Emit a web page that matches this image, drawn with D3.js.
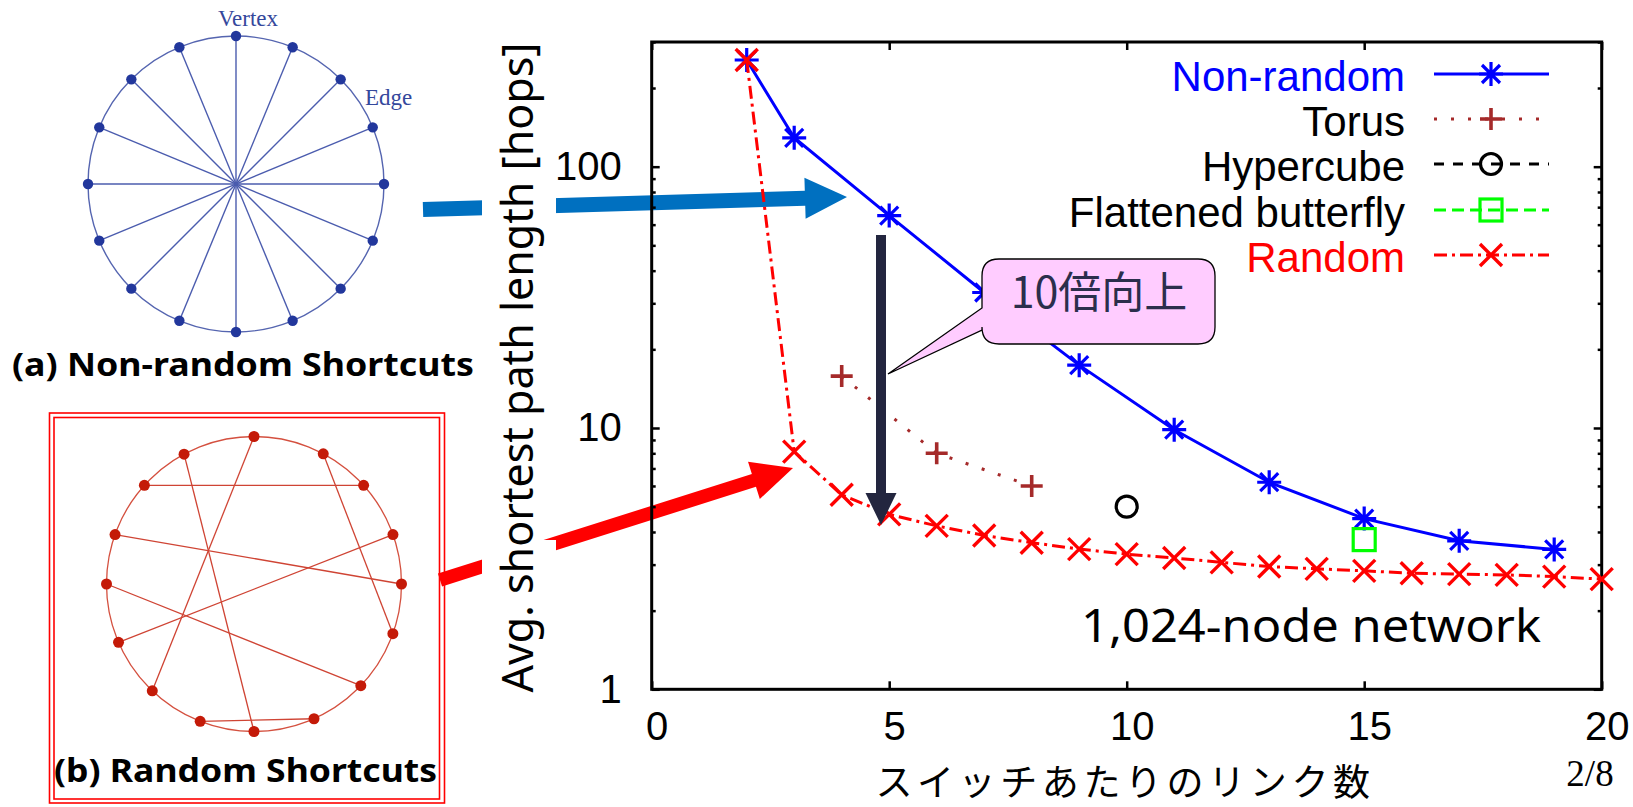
<!DOCTYPE html>
<html><head><meta charset="utf-8">
<script src="https://cdn.jsdelivr.net/npm/d3@7"></script>
<style>html,body{margin:0;padding:0;background:#fff}svg{display:block}</style>
</head><body>
<svg id="c" width="1633" height="807"></svg>
<script>
// ---------------- data ----------------
const nonRandomX = [2, 3, 5, 7, 9, 11, 13, 15, 17, 19];
const nonRandomY = [256, 129, 65, 33, 17.4, 9.85, 6.2, 4.5, 3.7, 3.43];
const torusX = [4, 6, 8];
const torusY = [15.8, 8.0, 6.0];
const hypercubeX = [10];
const hypercubeY = [5.0];
const butterflyX = [15];
const butterflyY = [3.74];
const randomX = [2, 3, 4, 5, 6, 7, 8, 9, 10, 11, 12, 13, 14, 15, 16, 17, 18, 19, 20];
const randomY = [256, 8.12, 5.55, 4.67, 4.22, 3.88, 3.64, 3.44, 3.29, 3.18, 3.06, 2.95, 2.89, 2.84, 2.78, 2.76, 2.74, 2.70, 2.64];
const xTicks = [0, 5, 10, 15, 20];
const yTicks = [1, 10, 100];
const yMinorTicks = [2,3,4,5,6,7,8,9,20,30,40,50,60,70,80,90,200,300];
const legendLabels = ["Non-random", "Torus", "Hypercube", "Flattened butterfly", "Random"];
const xLabel = "スイッチあたりのリンク数";
const yLabel = "Avg. shortest path length [hops]";
const calloutText = "10倍向上";
const noteText = "1,024-node network";
const pageText = "2/8";
const captionA = "(a) Non-random Shortcuts";
const captionB = "(b) Random Shortcuts";
const randomShortcutPairs = [[14,2],[0,10],[15,8],[1,5],[13,4],[3,11],[12,6],[9,7]];
const randomNodeAngles = [0, 28, 48, 70.4, 90, 109.7, 133.6, 156, 180, 201.4, 223.6, 246.7, 270, 289.6, 312, 331.7];

// ---------------- setup ----------------
const svg = d3.select("#c");
const x = d3.scaleLinear().domain([0, 20]).range([651.7, 1601.7]);
const y = d3.scaleLog().domain([1, 300]).range([689.3, 42.0]);

const SANS = "'Liberation Sans', Arial, sans-serif";
const HUM = "'Noto Sans', 'Open Sans', sans-serif";
const CJK = "'Noto Sans CJK JP', sans-serif";
const SERIF = "'Liberation Serif', 'DejaVu Serif', serif";

// ---------------- arrows (behind) ----------------
function arrow(g, x0, y0, x1, y1, w, hl, hw, color) {
  const dx = x1 - x0, dy = y1 - y0, L = Math.hypot(dx, dy);
  const ux = dx / L, uy = dy / L, nx = -uy, ny = ux;
  const bx = x1 - ux * hl, by = y1 - uy * hl;
  const p = [
    [x0 + nx * w / 2, y0 + ny * w / 2], [bx + nx * w / 2, by + ny * w / 2],
    [bx + nx * hw, by + ny * hw], [x1, y1], [bx - nx * hw, by - ny * hw],
    [bx - nx * w / 2, by - ny * w / 2], [x0 - nx * w / 2, y0 - ny * w / 2]
  ];
  g.append("path").attr("d", "M" + p.map(q => q.join(",")).join("L") + "Z").attr("fill", color);
}
const ag = svg.append("g");
arrow(ag, 423, 209.5, 847, 197, 15, 42, 20.5, "#0070C0");
arrow(ag, 440, 580, 793, 468, 13.5, 41, 19.5, "#FF0000");
ag.append("rect").attr("x", 482).attr("y", 180).attr("width", 74).attr("height", 50).attr("fill", "#fff");
ag.append("rect").attr("x", 482).attr("y", 540).attr("width", 74).attr("height", 60).attr("fill", "#fff");

// ---------------- panel (a) ----------------
const pa = svg.append("g");
const ca = {x: 236, y: 184, r: 148};
pa.append("circle").attr("cx", ca.x).attr("cy", ca.y).attr("r", ca.r)
  .attr("fill", "none").attr("stroke", "#5565b0").attr("stroke-width", 1.4);
const aNodes = d3.range(16).map(i => {
  const a = i * 22.5 * Math.PI / 180;
  return [ca.x + ca.r * Math.sin(a), ca.y - ca.r * Math.cos(a)];
});
for (let i = 0; i < 8; i++) {
  pa.append("line").attr("x1", aNodes[i][0]).attr("y1", aNodes[i][1])
    .attr("x2", aNodes[i + 8][0]).attr("y2", aNodes[i + 8][1])
    .attr("stroke", "#4b5cae").attr("stroke-width", 1.4);
}
pa.selectAll("circle.n").data(aNodes).enter().append("circle")
  .attr("cx", d => d[0]).attr("cy", d => d[1]).attr("r", 5.2).attr("fill", "#22379c");
pa.append("text").attr("x", 248).attr("y", 26).attr("text-anchor", "middle")
  .style("font-family", SERIF).style("font-size", "23px").attr("fill", "#34489c").text("Vertex");
pa.append("text").attr("x", 365).attr("y", 105)
  .style("font-family", SERIF).style("font-size", "23px").attr("fill", "#34489c").text("Edge");
pa.append("text").attr("x", 12).attr("y", 376).attr("textLength", 462).attr("lengthAdjust", "spacingAndGlyphs")
  .style("font-family", HUM).style("font-weight", "bold").style("font-size", "33px").attr("fill", "#000").text(captionA);

// ---------------- panel (b) ----------------
const pb = svg.append("g");
pb.append("rect").attr("x", 49.5).attr("y", 413).attr("width", 395).attr("height", 390)
  .attr("fill", "none").attr("stroke", "#ff0000").attr("stroke-width", 1.6);
pb.append("rect").attr("x", 54).attr("y", 417.5).attr("width", 385.5).attr("height", 381.5)
  .attr("fill", "none").attr("stroke", "#ff0000").attr("stroke-width", 1.6);
const cb = {x: 254, y: 584, r: 147.5};
pb.append("circle").attr("cx", cb.x).attr("cy", cb.y).attr("r", cb.r)
  .attr("fill", "none").attr("stroke", "#d4503f").attr("stroke-width", 1.3);
const bNodes = randomNodeAngles.map(deg => {
  const a = deg * Math.PI / 180;
  return [cb.x + cb.r * Math.sin(a), cb.y - cb.r * Math.cos(a)];
});
randomShortcutPairs.forEach(([i, j]) => {
  pb.append("line").attr("x1", bNodes[i][0]).attr("y1", bNodes[i][1])
    .attr("x2", bNodes[j][0]).attr("y2", bNodes[j][1])
    .attr("stroke", "#cf4434").attr("stroke-width", 1.3);
});
pb.selectAll("circle.n").data(bNodes).enter().append("circle")
  .attr("cx", d => d[0]).attr("cy", d => d[1]).attr("r", 5.5).attr("fill", "#c41a08");
pb.append("text").attr("x", 54).attr("y", 782).attr("textLength", 383).attr("lengthAdjust", "spacingAndGlyphs")
  .style("font-family", HUM).style("font-weight", "bold").style("font-size", "33px").attr("fill", "#000").text(captionB);

// ---------------- axes ----------------
const axG = svg.append("g");
function styleAxis(g) {
  g.select(".domain").remove();
  g.selectAll(".tick line").attr("stroke", "#000").attr("stroke-width", 2.5);
  g.selectAll("text").style("font-family", SANS).style("font-size", "40px").attr("fill", "#000");
}
axG.append("g").attr("transform", `translate(0,${y(1)})`)
  .call(d3.axisBottom(x).tickValues(xTicks).tickSize(-8).tickPadding(22).tickFormat(d3.format("d")))
  .call(styleAxis).selectAll("text").attr("dx", 5);
axG.append("g").attr("transform", `translate(0,${y(300)})`)
  .call(d3.axisTop(x).tickValues(xTicks).tickSize(-8).tickFormat(""))
  .call(styleAxis);
axG.append("g").attr("transform", `translate(${x(0)},0)`)
  .call(d3.axisLeft(y).tickValues(yTicks).tickSize(-8).tickPadding(30).tickFormat(d3.format("d")))
  .call(styleAxis);
axG.append("g").attr("transform", `translate(${x(20)},0)`)
  .call(d3.axisRight(y).tickValues(yTicks).tickSize(-8).tickFormat(""))
  .call(styleAxis);
axG.append("g").attr("transform", `translate(${x(0)},0)`)
  .call(d3.axisLeft(y).tickValues(yMinorTicks).tickSize(-4).tickFormat(""))
  .call(styleAxis);
axG.append("g").attr("transform", `translate(${x(20)},0)`)
  .call(d3.axisRight(y).tickValues(yMinorTicks).tickSize(-4).tickFormat(""))
  .call(styleAxis);
axG.append("rect").attr("x", x(0)).attr("y", y(300)).attr("width", x(20) - x(0)).attr("height", y(1) - y(300))
  .attr("fill", "none").attr("stroke", "#000").attr("stroke-width", 3);

// axis titles
svg.append("text").attr("transform", `translate(533,${(42 + 693) / 2}) rotate(-90)`).attr("text-anchor", "middle")
  .style("font-family", HUM).style("font-size", "43px").attr("fill", "#000").text(yLabel);
svg.append("text").attr("x", 1125).attr("y", 796).attr("text-anchor", "middle")
  .style("font-family", CJK).style("font-size", "37px").style("letter-spacing", "4.6px").attr("fill", "#000").text(xLabel);
svg.append("text").attr("x", 1590).attr("y", 786).attr("text-anchor", "middle")
  .style("font-family", SERIF).style("font-size", "37px").attr("fill", "#000").text(pageText);

// ---------------- markers ----------------
function starPath(h) { const d = h * 0.75; return `M${-h},0L${h},0M0,${-h}L0,${h}M${-d},${-d}L${d},${d}M${-d},${d}L${d},${-d}`; }
function crossPath(d) { return `M${-d},${-d}L${d},${d}M${-d},${d}L${d},${-d}`; }
function plusPath(h) { return `M${-h},0L${h},0M0,${-h}L0,${h}`; }

const series = [
  {name: legendLabels[0], xs: nonRandomX, ys: nonRandomY, color: "#0000ff", dash: null, marker: "star"},
  {name: legendLabels[1], xs: torusX, ys: torusY, color: "#a52a2a", dash: "3,14", marker: "plus"},
  {name: legendLabels[2], xs: hypercubeX, ys: hypercubeY, color: "#000000", dash: "10,9", marker: "circle"},
  {name: legendLabels[3], xs: butterflyX, ys: butterflyY, color: "#00ff00", dash: "12,6", marker: "square"},
  {name: legendLabels[4], xs: randomX, ys: randomY, color: "#ff0000", dash: "13,5,3,5", marker: "cross"}
];
const line = d3.line().x(d => x(d[0])).y(d => y(d[1]));
function drawMarker(g, type, cx, cy, color) {
  if (type === "star") g.append("path").attr("d", starPath(12)).attr("transform", `translate(${cx},${cy})`).attr("stroke", color).attr("stroke-width", 3.2).attr("fill", "none");
  if (type === "plus") g.append("path").attr("d", plusPath(11)).attr("transform", `translate(${cx},${cy})`).attr("stroke", color).attr("stroke-width", 3.6).attr("fill", "none");
  if (type === "cross") g.append("path").attr("d", crossPath(11)).attr("transform", `translate(${cx},${cy})`).attr("stroke", color).attr("stroke-width", 3.4).attr("fill", "none");
  if (type === "circle") g.append("circle").attr("cx", cx).attr("cy", cy).attr("r", 10.5).attr("stroke", color).attr("stroke-width", 3.2).attr("fill", "none");
  if (type === "square") g.append("rect").attr("x", cx - 11).attr("y", cy - 11).attr("width", 22).attr("height", 22).attr("stroke", color).attr("stroke-width", 3.2).attr("fill", "none");
}
const pg = svg.append("g");
series.forEach(s => {
  const pts = s.xs.map((v, i) => [v, s.ys[i]]);
  if (pts.length > 1) {
    pg.append("path").datum(pts).attr("d", line).attr("fill", "none").attr("stroke", s.color)
      .attr("stroke-width", 3).attr("stroke-dasharray", s.dash);
  }
  pts.forEach(p => drawMarker(pg, s.marker, x(p[0]), y(p[1]), s.color));
});

// ---------------- legend ----------------
const legendRowY = [76, 121, 166, 212, 257];
const lg = svg.append("g");
series.forEach((s, i) => {
  const cy = legendRowY[i];
  lg.append("text").attr("x", 1405).attr("y", cy + 15).attr("text-anchor", "end")
    .style("font-family", SANS).style("font-size", "42px")
    .attr("fill", (i === 0 || i === 4) ? s.color : "#000").text(s.name);
  lg.append("line").attr("x1", 1434).attr("x2", 1549).attr("y1", cy - 2).attr("y2", cy - 2)
    .attr("stroke", s.color).attr("stroke-width", 3).attr("stroke-dasharray", s.dash);
  drawMarker(lg, s.marker, 1491, cy - 2, s.color);
});

// note
svg.append("text").attr("x", 1081).attr("y", 642).attr("textLength", 460).attr("lengthAdjust", "spacingAndGlyphs")
  .style("font-family", HUM).style("font-size", "45px").attr("fill", "#000").text(noteText);

// ---------------- annotations ----------------
arrow(svg.append("g"), 881, 235, 881, 525, 10, 32, 15.5, "#23263f");
const cg = svg.append("g");
const bx0 = 982, by0 = 259, bx1 = 1215, by1 = 344, rr = 17;
cg.append("path").attr("d",
  `M${bx0 + rr},${by0}L${bx1 - rr},${by0}Q${bx1},${by0} ${bx1},${by0 + rr}L${bx1},${by1 - rr}Q${bx1},${by1} ${bx1 - rr},${by1}` +
  `L${bx0 + rr},${by1}Q${bx0},${by1} ${bx0},${by1 - rr}L${bx0},330L888,374L${bx0},308L${bx0},${by0 + rr}Q${bx0},${by0} ${bx0 + rr},${by0}Z`)
  .attr("fill", "#FFCCFF").attr("stroke", "#000").attr("stroke-width", 1.3);
cg.append("text").attr("x", 1099).attr("y", 308).attr("text-anchor", "middle")
  .style("font-family", CJK).style("font-size", "43px").attr("fill", "#2b2e4c").text(calloutText);
</script>
</body></html>
